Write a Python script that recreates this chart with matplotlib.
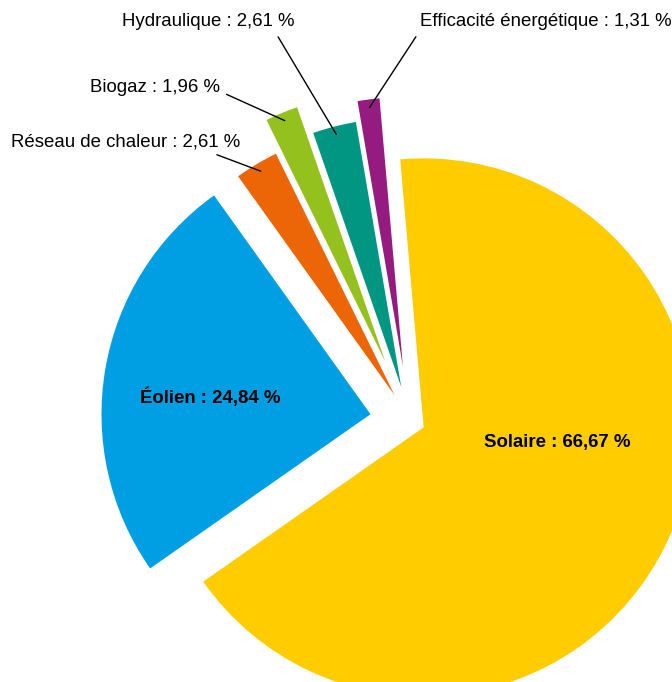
import numpy as np
import matplotlib.pyplot as plt

# Répartition par filière (%)
labels = ["Solaire", "Éolien", "Réseau de chaleur", "Biogaz", "Hydraulique",
          "Efficacité énergétique"]
shares = [66.67, 24.84, 2.61, 1.96, 2.61, 1.31]
colors = ["#FFCC00", "#009FE3", "#EC6608", "#95C11F", "#009681", "#951B81"]
explode = [0.056, 0.149, 0.112, 0.240, 0.130, 0.205]

plt.rcParams['font.family'] = ['Liberation Sans', 'DejaVu Sans']

W, H = 672, 682
fig = plt.figure(figsize=(W / 100, H / 100), dpi=100)
ax = fig.add_axes([0, 0, 1, 1])

wedges, _ = ax.pie(shares, colors=colors, explode=explode, startangle=95,
                   counterclock=False, radius=1,
                   wedgeprops=dict(linewidth=0))

# the pie is cropped by the figure on the right and at the bottom
R = 269            # radius in pixels
cx, cy = 410, 421  # centre in pixels from top-left
ax.set_xlim(-cx / R, (W - cx) / R)
ax.set_ylim(-(H - cy) / R, cy / R)
ax.set_aspect('equal', adjustable='datalim')
ax.axis('off')


def fmt(v):
    return f"{v:.2f}".replace('.', ',') + " %"


# big slices: bold label inside
ax.text(557, 240, f"{labels[0]} : {fmt(shares[0])}", transform=None,
        ha='center', va='center', fontsize=13.4, fontweight='bold')
ax.text(210, 285, f"{labels[1]} : {fmt(shares[1])}", transform=None,
        ha='center', va='center', fontsize=13.4, fontweight='bold')

# small slices: label outside with a leader line
label_pos = {
    2: (240, 540, 'right', (0.85, 0.0)),
    3: (220, 594, 'right', (1.0, 0.3)),
    4: (295, 660, 'right', (0.88, 0.0)),
    5: (420, 660, 'left', (0.0, 0.0)),
}
for i, (tx, ty, ha, rel) in label_pos.items():
    w = wedges[i]
    mid = np.deg2rad((w.theta1 + w.theta2) / 2)
    px = w.center[0] + 0.97 * w.r * np.cos(mid)
    py = w.center[1] + 0.97 * w.r * np.sin(mid)
    ax.annotate(f"{labels[i]} : {fmt(shares[i])}", xy=(px, py),
                xytext=(tx, ty), textcoords='figure pixels',
                ha=ha, va='center', fontsize=13.4,
                arrowprops=dict(arrowstyle='-', color='black', lw=1,
                                relpos=rel, shrinkA=3, shrinkB=0))

fig.savefig("out.png", dpi=100)
